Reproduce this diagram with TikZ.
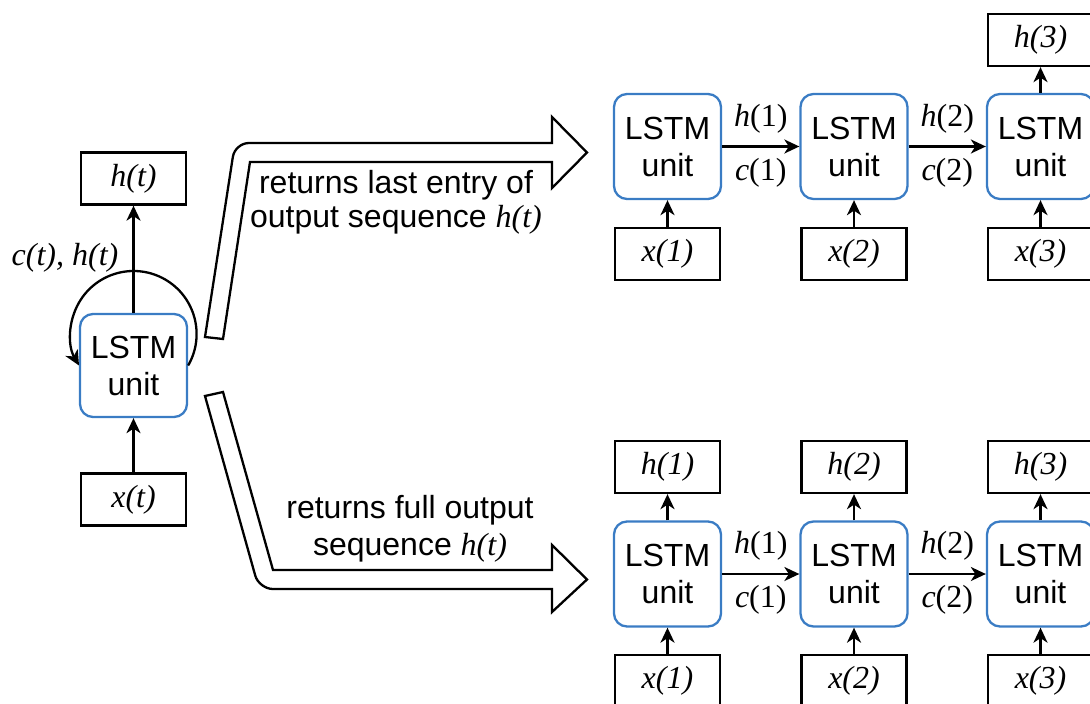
\documentclass[tikz,border=0pt]{standalone}
\usepackage{fontspec}
\setmainfont{Liberation Sans}
\newfontfamily\mathserif{Liberation Serif}
\usetikzlibrary{arrows.meta}
\definecolor{unitblue}{RGB}{58,124,196}
\newcommand{\sym}[1]{{\mathserif\itshape #1}}

\tikzset{
  unitbox/.style={draw=unitblue, line width=2.3pt, rounded corners=13pt,
    minimum width=107pt, minimum height=105pt, inner sep=0pt,
    align=center, font=\fontsize{32}{37}\selectfont},
  valbox/.style={draw=black, line width=2.3pt, minimum width=105pt,
    minimum height=52pt, inner sep=0pt,
    font=\fontsize{32}{36}\mathserif\itshape},
  flow/.style={line width=2.3pt, -{Stealth[length=15pt,width=14pt,inset=4.5pt]}},
  edgelab/.style={font=\fontsize{32}{36}\mathserif, inner sep=0pt},
  bigarrow/.style={draw, line width=2.3pt, line join=miter},
  caption/.style={align=center, inner sep=0pt}
}

\begin{document}
\begin{tikzpicture}[x=1pt, y=-1pt]
\useasboundingbox (0,0) rectangle (1090,704);
\clip (0,0) rectangle (1090,704);

% ---- single recurrent LSTM unit ----
\node[valbox] (ht) at (133.5,178.5) {h(t)};
\node[unitbox, minimum height=103pt] (lu) at (133.5,365.5) {LSTM\\unit};
\node[valbox] (xt) at (133.5,499.5) {x(t)};
\draw[flow] (xt) -- (lu);
\draw[flow] (lu) -- (ht);
\draw[flow] (lu.east) arc[start angle=-30, end angle=210, radius=63pt];
\node[edgelab] (loopl) at (65,258) {\itshape c(t), h(t)};

% ---- hollow arrow: last output only ----
\draw[bigarrow] (223,339) -- (205,337) [rounded corners=14pt] -- (235,143)
  [sharp corners] -- (552,143) -- (552,117) -- (587,152.5) -- (552,188)
  -- (552,162) -- (250,162) -- cycle;
\node[caption, font=\fontsize{32}{34}\selectfont] (cap1) at (396,202)
  {returns last entry of\\output sequence \sym{h(t)}};

% ---- hollow arrow: full output sequence ----
\draw[bigarrow] (223,392) -- (205,396) [rounded corners=14pt] -- (259,589)
  [sharp corners] -- (552,589) -- (552,612) -- (587,579.5) -- (552,545)
  -- (552,570) -- (273,570) -- cycle;
\node[caption, font=\fontsize{32}{37}\selectfont] (cap2) at (410,528.5)
  {returns full output\\sequence \sym{h(t)}};

% ---- unrolled chain returning the last state ----
\foreach \i/\x in {1/667.5, 2/854, 3/1040.5} {
  \node[unitbox] (tu\i) at (\x,146.5) {LSTM\\unit};
  \node[valbox] (tx\i) at (\x,254) {x(\i)};
  \draw[flow] (tx\i) -- (tu\i);
}
\node[valbox] (th3) at (1040.5,40) {h(3)};
\draw[flow] (tu3) -- (th3);
\draw[flow] (tu1) -- node[edgelab, yshift=28pt] (tlh1) {\textit{h}(1)}
  node[edgelab, yshift=-26pt] (tlc1) {\textit{c}(1)} (tu2);
\draw[flow] (tu2) -- node[edgelab, yshift=28pt] (tlh2) {\textit{h}(2)}
  node[edgelab, yshift=-26pt] (tlc2) {\textit{c}(2)} (tu3);

% ---- unrolled chain returning every state ----
\foreach \i/\x in {1/667.5, 2/854, 3/1040.5} {
  \node[unitbox] (bu\i) at (\x,574) {LSTM\\unit};
  \node[valbox] (bx\i) at (\x,681) {x(\i)};
  \node[valbox] (bh\i) at (\x,467) {h(\i)};
  \draw[flow] (bx\i) -- (bu\i);
  \draw[flow] (bu\i) -- (bh\i);
}
\draw[flow] (bu1) -- node[edgelab, yshift=28pt] (blh1) {\textit{h}(1)}
  node[edgelab, yshift=-26pt] (blc1) {\textit{c}(1)} (bu2);
\draw[flow] (bu2) -- node[edgelab, yshift=28pt] (blh2) {\textit{h}(2)}
  node[edgelab, yshift=-26pt] (blc2) {\textit{c}(2)} (bu3);
\end{tikzpicture}
\end{document}
